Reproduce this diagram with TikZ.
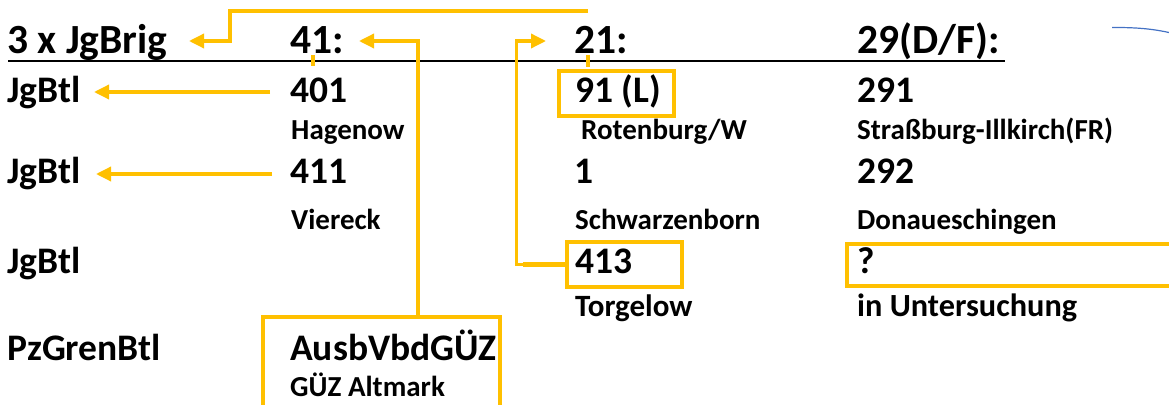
\documentclass[tikz,border=0pt]{standalone}
\usepackage{fontspec}
\setmainfont{Carlito}
\usetikzlibrary{arrows.meta,fit}
\definecolor{gold}{RGB}{255,192,0}
\definecolor{blueline}{RGB}{68,114,196}
\tikzset{
  txt/.style={anchor=base west,inner sep=0pt,font=\bfseries},
  head/.style={txt,font=\fontsize{41.5}{48}\selectfont\bfseries},
  main/.style={txt,font=\fontsize{37.5}{43}\selectfont\bfseries},
  sub/.style={txt,font=\fontsize{29}{35}\selectfont\bfseries},
  subb/.style={txt,font=\fontsize{31}{35}\selectfont\bfseries},
  subc/.style={txt,font=\fontsize{32.3}{35}\selectfont\bfseries},
  goldline/.style={draw=gold,line width=3.4pt},
  goldarrow/.style={goldline,-{Triangle[length=15pt,width=14pt]}},
  goldbox/.style={draw=gold,line width=3.4pt,inner sep=0pt},
}
\begin{document}
\begin{tikzpicture}[x=1pt,y=-1pt]
\useasboundingbox (0,0) rectangle (1169,404);
% header
\node[head] (h0) at (7,53) {3 x JgBrig};
\node[head] (h1) at (290,53) {41:};
\node[head] (h2) at (574,53) {21:};
\node[head] (h3) at (857,53) {29(D/F):};
\coordinate (ulA) at (8,61);
\coordinate (ulB) at (1005,61);
\draw[line width=2.8pt] (ulA) -- (ulB);
% row 1
\node[main] (j1) at (7,102) {JgBtl};
\node[main] (n401) at (290,102) {401};
\node[main] (n91) at (575,102) {91 (L)};
\node[main] (n291) at (857,102) {291};
% row 2
\node[sub] (hag) at (291,139) {Hagenow};
\node[sub] (rot) at (581,139) {Rotenburg/W};
\node[sub] (str) at (857,139) {Straßburg-Illkirch(FR)};
% row 3
\node[main] (j2) at (7,183) {JgBtl};
\node[main] (n411) at (290,183) {411};
\node[main] (n1) at (574,183) {1};
\node[main] (n292) at (857,183) {292};
% row 4
\node[sub] (vie) at (291,229) {Viereck};
\node[sub] (sch) at (575,229) {Schwarzenborn};
\node[sub] (don) at (857,229) {Donaueschingen};
% row 5
\node[main] (j3) at (7,273) {JgBtl};
\node[main] (n413) at (575,273) {413};
\node[main] (nq) at (857,273) {?};
% row 6
\node[subb] (tor) at (575,316) {Torgelow};
\node[subc] (unt) at (857,316) {in Untersuchung};
% row 7/8
\node[main] (pz) at (7,360) {PzGrenBtl};
\node[main] (aus) at (290,360) {AusbVbdGÜZ};
\node[sub] (guz) at (290,396) {GÜZ Altmark};
% boxes
\coordinate (b91a) at (559,71); \coordinate (b91b) at (674,116);
\node[goldbox,fit=(b91a)(b91b)] (box91) {};
\coordinate (b413a) at (567,242); \coordinate (b413b) at (682,287);
\node[goldbox,fit=(b413a)(b413b)] (box413) {};
\coordinate (bqa) at (847,244); \coordinate (bqb) at (1180,286);
\node[goldbox,fit=(bqa)(bqb)] (boxq) {};
\coordinate (baa) at (263,317); \coordinate (bab) at (500,412);
\node[goldbox,fit=(baa)(bab)] (boxaus) {};
% ticks
\draw[goldline] (313,55) -- (313,66);
\draw[goldline] (588,55) -- (588,67);
% connectors
\coordinate (topR) at (588,11);
\coordinate (tipBrig) at (189,41);
\draw[goldarrow] (topR) -- (230,11) |- (tipBrig);
\coordinate (aus41) at (418,317);
\coordinate (tip41) at (359,41);
\draw[goldarrow] (aus41) |- (tip41);
\coordinate (tip21) at (546,41);
\draw[goldarrow] (box413.west) -| (516.7,41) -- (tip21);
\draw[draw=gold,line width=5.5pt] (box413.west) -- ++(-42,0);
\coordinate (from401) at (270,92);
\coordinate (tipJ1) at (94,92);
\draw[goldarrow] (from401) -- (tipJ1);
\coordinate (from411) at (272,174);
\coordinate (tipJ2) at (96,174);
\draw[goldarrow] (from411) -- (tipJ2);
% blue curve
\coordinate (blA) at (1112,27.5);
\coordinate (blB) at (1169,32.5);
\draw[blueline,line width=1.2pt] (blA) .. controls (1140,27.3) and (1155,29.5) .. (blB);
\end{tikzpicture}
\end{document}
